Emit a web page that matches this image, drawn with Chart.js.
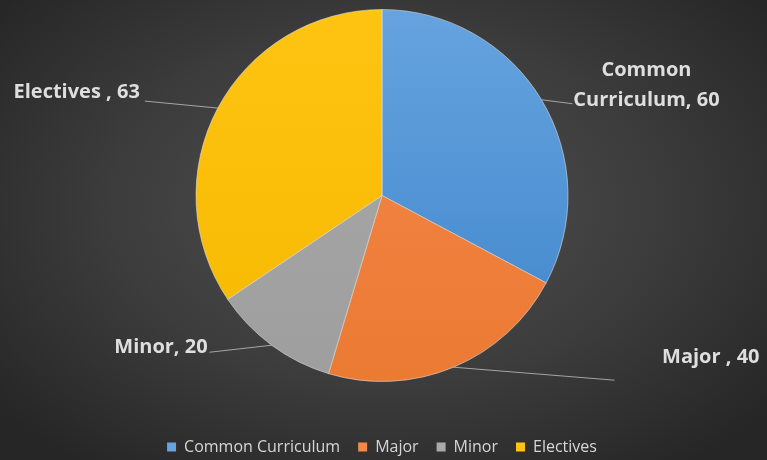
<!DOCTYPE html>
<html>
<head>
<meta charset="utf-8">
<script src="https://cdn.jsdelivr.net/npm/chart.js@4.4.1/dist/chart.umd.min.js"></script>
<style>
  html, body { margin: 0; padding: 0; background: #2b2b2b; }
  #wrap {
    width: 767px; height: 460px; position: relative;
    background: radial-gradient(ellipse 65% 70% at 50% 45%, #515151 0%, #3c3c3c 55%, #262626 100%);
  }
</style>
</head>
<body>
<div id="wrap"><canvas id="myChart" width="767" height="460"></canvas></div>
<script>
const categories = ['Common Curriculum', 'Major', 'Minor', 'Electives']
const credits = [60, 40, 20, 63]
const pointLabels = [['Common', 'Curriculum, 60'], ['Major , 40'], ['Minor, 20'], ['Electives , 63']]
const sliceColors = [['#66a3df', '#3f86cb'], ['#f5884a', '#eb7a33'], ['#aaaaaa', '#9e9e9e'], ['#fec412', '#f7b900']]

// where each label goes, relative to the point on the rim at the slice middle
const LABEL_LAYOUT = [
    { lineTo: [31, 4], text: [105, -29], align: 'center', lineGap: 30 },
    { lineTo: [161, 13], text: [306, -10], align: 'right' },
    { lineTo: [-62, 7], text: [-64, 2], align: 'right' },
    { lineTo: [-73, -7], text: [-78, -16], align: 'right' }
]

const labelPlugin = {
    id: 'sliceLabels',
    afterDatasetsDraw(chart) {
        const ctx = chart.ctx
        const arcs = chart.getDatasetMeta(0).data
        ctx.save()
        arcs.forEach((arc, i) => {
            const mid = (arc.startAngle + arc.endAngle) / 2
            const ax = arc.x + Math.cos(mid) * arc.outerRadius
            const ay = arc.y + Math.sin(mid) * arc.outerRadius
            const lay = LABEL_LAYOUT[i]
            ctx.strokeStyle = 'rgba(200,200,200,0.75)'
            ctx.lineWidth = 1
            ctx.beginPath()
            ctx.moveTo(ax, ay)
            ctx.lineTo(ax + lay.lineTo[0], ay + lay.lineTo[1])
            ctx.stroke()

            ctx.fillStyle = '#dedede'
            ctx.font = 'bold 20px "Open Sans"'
            ctx.textAlign = lay.align
            ctx.textBaseline = 'middle'
            pointLabels[i].forEach((line, j) => {
                ctx.fillText(line, ax + lay.text[0], ay + lay.text[1] + j * (lay.lineGap || 0))
            })
        })
        ctx.restore()
    }
}

function sliceFill(context) {
    const chart = context.chart
    const area = chart.chartArea
    const pair = sliceColors[context.dataIndex]
    if (!area) return pair[0]
    const g = chart.ctx.createLinearGradient(0, 9, 0, 381)
    g.addColorStop(0, pair[0])
    g.addColorStop(1, pair[1])
    return g
}

new Chart(document.getElementById('myChart'), {
    type: 'pie',
    data: {
        labels: categories,
        datasets: [{
            data: credits,
            backgroundColor: sliceFill,
            borderColor: 'rgba(230,230,230,0.55)',
            borderWidth: 1,
            radius: 186
        }]
    },
    options: {
        responsive: false,
        animation: false,
        layout: { padding: { top: 0, bottom: -5, right: 3 } },
        plugins: {
            legend: {
                position: 'bottom',
                // empty title only pushes the pie up, like the gap in the original
                title: { display: true, text: ' ', font: { size: 10 }, padding: 9 },
                labels: {
                    color: '#d6d6d6',
                    font: { family: '"Open Sans"', size: 16 },
                    boxWidth: 9,
                    boxHeight: 9,
                    padding: 18,
                    generateLabels(chart) {
                        return categories.map((c, i) => ({
                            text: c,
                            fillStyle: sliceColors[i][0],
                            strokeStyle: sliceColors[i][0],
                            fontColor: '#d6d6d6',
                            lineWidth: 0,
                            index: i
                        }))
                    }
                }
            },
            tooltip: { enabled: false }
        }
    },
    plugins: [labelPlugin]
})
</script>
</body>
</html>
